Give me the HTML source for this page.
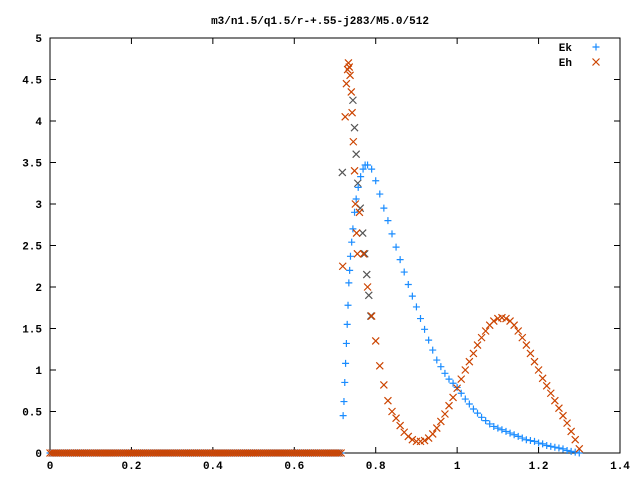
<!DOCTYPE html>
<html><head><meta charset="utf-8"><style>
body{margin:0;background:#fff}
svg{display:block}
text{font-family:"Liberation Mono","DejaVu Sans Mono",monospace;font-size:11px;font-weight:bold;fill:#000}
</style></head><body>
<svg id="c" width="640" height="480"></svg>
<script>
const xTicks=[0,0.2,0.4,0.6,0.8,1,1.2,1.4];
const xTickLabels=["0","0.2","0.4","0.6","0.8","1","1.2","1.4"];
const yTicks=[0,0.5,1,1.5,2,2.5,3,3.5,4,4.5,5];
const yTickLabels=["0","0.5","1","1.5","2","2.5","3","3.5","4","4.5","5"];
const ekRiseX=[0.720,0.722,0.724,0.726,0.728,0.730,0.732,0.734,0.736,0.738,0.741,0.744,0.748,0.752,0.757,0.763,0.769,0.774];
const ekRiseY=[0.45,0.62,0.85,1.08,1.32,1.55,1.78,2.05,2.2,2.37,2.54,2.7,2.9,3.06,3.2,3.33,3.42,3.47];
const ekStart=0.78, ekStep=0.01;
const ekValues=[3.47,3.42,3.28,3.12,2.95,2.8,2.64,2.48,2.33,2.18,2.03,1.89,1.76,1.62,1.49,1.36,1.24,1.12,1.04,0.96,0.89,0.84,0.79,0.72,0.65,0.59,0.53,0.48,0.43,0.39,0.35,0.32,0.3,0.28,0.26,0.24,0.22,0.2,0.18,0.16,0.15,0.14,0.12,0.11,0.09,0.08,0.07,0.06,0.05,0.03,0.02,0.01,0];
const ehSpikeX=[0.719,0.725,0.728,0.731,0.733,0.735,0.737,0.740,0.742,0.745,0.748,0.750,0.753,0.755];
const ehSpikeY=[2.25,4.05,4.45,4.62,4.7,4.65,4.55,4.35,4.1,3.75,3.4,3.0,2.65,2.4];
const ehStart=0.76, ehStep=0.01;
const ehValues=[2.9,2.4,2.0,1.65,1.35,1.05,0.82,0.63,0.5,0.42,0.33,0.25,0.2,0.16,0.14,0.14,0.15,0.18,0.23,0.3,0.38,0.47,0.57,0.67,0.78,0.89,1.0,1.1,1.2,1.3,1.39,1.47,1.54,1.59,1.62,1.63,1.62,1.59,1.54,1.47,1.39,1.3,1.2,1.1,1.0,0.9,0.81,0.72,0.63,0.54,0.45,0.36,0.26,0.16,0.05];
const grayX=[0.718,0.744,0.748,0.752,0.756,0.762,0.768,0.773,0.778,0.783,0.788];
const grayY=[3.38,4.25,3.92,3.6,3.25,2.95,2.65,2.4,2.15,1.9,1.65];
const baseEnd=0.715, baseStep=0.005;

const L=50,R=620,T=38,B=453;
const sx=v=>L+(v-0)/(1.4-0)*(R-L);
const sy=v=>B-(v-0)/(5-0)*(B-T);
const svg=document.getElementById('c');
const NS='http://www.w3.org/2000/svg';
function mk(t,a){const e=document.createElementNS(NS,t);for(const k in a)e.setAttribute(k,a[k]);svg.appendChild(e);return e;}
let e=mk('text',{x:320,y:24,'text-anchor':'middle'});e.textContent='m3/n1.5/q1.5/r-+.55-j283/M5.0/512';


e=mk('rect',{x:L,y:T,width:R-L,height:B-T,fill:'none',stroke:'#000','stroke-width':1});


xTicks.forEach((v,i)=>{const x=sx(v);
 e=mk('path',{d:`M${x} ${B}v-6M${x} ${T}v6`,stroke:'#000'});
 
 
 e=mk('text',{x:x,y:B+16,'text-anchor':'middle'});e.textContent=xTickLabels[i];
 
 });
yTicks.forEach((v,i)=>{const y=sy(v);
 e=mk('path',{d:`M${L} ${y}h6M${R} ${y}h-6`,stroke:'#000'});
 
 
 e=mk('text',{x:L-8,y:y+4,'text-anchor':'end'});e.textContent=yTickLabels[i];
 
 });
const BLUE='#1a8cff',ORANGE='#cc4400',GRAY='#555';
function plus(x,y,c,n){const el=mk('path',{d:`M${x-3.5} ${y}h7M${x} ${y-3.5}v7`,stroke:c,'stroke-width':1.2});
 
 }
function cross(x,y,c,n){const el=mk('path',{d:`M${x-3.5} ${y-3.5}l7 7M${x-3.5} ${y+3.5}l7 -7`,stroke:c,'stroke-width':1.2});
 
 }
for(let i=0;i*baseStep<=baseEnd+1e-9;i++){plus(sx(i*baseStep),sy(0),BLUE,'ek-point');}
for(let i=0;i*baseStep<=baseEnd+1e-9;i++){cross(sx(i*baseStep),sy(0),ORANGE,'eh-point');}
grayX.forEach((x,i)=>cross(sx(x),sy(grayY[i]),GRAY,'extra-point'));
ekRiseX.forEach((x,i)=>plus(sx(x),sy(ekRiseY[i]),BLUE,'ek-point'));
ekValues.forEach((v,i)=>plus(sx(ekStart+i*ekStep),sy(v),BLUE,'ek-point'));
ehSpikeX.forEach((x,i)=>cross(sx(x),sy(ehSpikeY[i]),ORANGE,'eh-point'));
ehValues.forEach((v,i)=>cross(sx(ehStart+i*ehStep),sy(v),ORANGE,'eh-point'));
e=mk('text',{x:572,y:51,'text-anchor':'end'});e.textContent='Ek';


plus(596,47,BLUE,'legend-ek-marker');
e=mk('text',{x:572,y:66,'text-anchor':'end'});e.textContent='Eh';


cross(596,62,ORANGE,'legend-eh-marker');
</script>
</body></html>
